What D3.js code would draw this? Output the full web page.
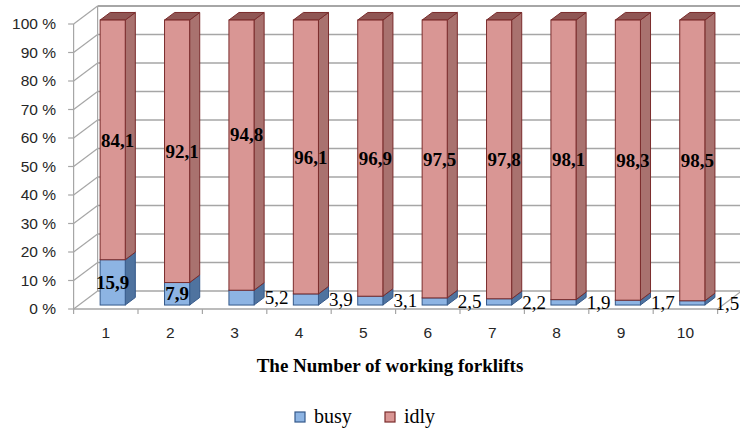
<!DOCTYPE html>
<html>
<head>
<meta charset="utf-8">
<script src="https://cdn.jsdelivr.net/npm/d3@7"></script>
<style>
  body { margin: 0; background: #fff; }
  svg { display: block; }
</style>
</head>
<body>
<div id="chart"></div>
<script>
// Data
const categories = ["1", "2", "3", "4", "5", "6", "7", "8", "9", "10"];
const busy = [15.9, 7.9, 5.2, 3.9, 3.1, 2.5, 2.2, 1.9, 1.7, 1.5];
const idly = [84.1, 92.1, 94.8, 96.1, 96.9, 97.5, 97.8, 98.1, 98.3, 98.5];
const yTicks = [0, 10, 20, 30, 40, 50, 60, 70, 80, 90, 100];

const W = 740, H = 430;

const svg = d3.select("#chart")
  .append("svg")
    .attr("width", W)
    .attr("height", H);

svg.append("rect").attr("width", W).attr("height", H).attr("fill", "#fff");

// front plane scales
const x = d3.scaleBand()
  .domain(categories)
  .range([73.6, 717.6])
  .padding(0);

const y = d3.scaleLinear()
  .domain([0, 100])
  .range([309, 24]);

// depth of the walls and of the bars
const depth = {dx: 24, dy: -18};
const f0 = 0.22, f1 = 0.64;
const ox = depth.dx * f0, oy = depth.dy * f0;
const ddx = depth.dx * (f1 - f0), ddy = depth.dy * (f1 - f0);

const gridColor = "#a6a6a6";
const x0 = x.range()[0], x1 = x.range()[1];

// walls: back gridlines, side wall diagonals
const walls = svg.append("g");
yTicks.forEach(t => {
  walls.append("line")
    .attr("x1", x0 + depth.dx).attr("x2", x1 + depth.dx)
    .attr("y1", y(t) + depth.dy).attr("y2", y(t) + depth.dy)
    .attr("stroke", gridColor)
    .attr("stroke-width", t === 100 ? 2.2 : 1.3);
  walls.append("line")
    .attr("x1", x0).attr("y1", y(t))
    .attr("x2", x0 + depth.dx).attr("y2", y(t) + depth.dy)
    .attr("stroke", gridColor).attr("stroke-width", 1.2);
  // tick
  walls.append("line")
    .attr("x1", x0 - 5.5).attr("x2", x0)
    .attr("y1", y(t)).attr("y2", y(t))
    .attr("stroke", gridColor).attr("stroke-width", 1.2);
});
// back wall left edge + front axis line
walls.append("line")
  .attr("x1", x0 + depth.dx).attr("x2", x0 + depth.dx)
  .attr("y1", y(0) + depth.dy).attr("y2", y(100) + depth.dy)
  .attr("stroke", gridColor).attr("stroke-width", 1.2);
walls.append("line")
  .attr("x1", x0).attr("x2", x0)
  .attr("y1", y(0)).attr("y2", y(100))
  .attr("stroke", gridColor).attr("stroke-width", 1.2);
// floor front edge and right edge
walls.append("line")
  .attr("x1", x0).attr("x2", x1)
  .attr("y1", y(0)).attr("y2", y(0))
  .attr("stroke", gridColor).attr("stroke-width", 1.5);
walls.append("line")
  .attr("x1", x1).attr("x2", x1 + depth.dx)
  .attr("y1", y(0)).attr("y2", y(0) + depth.dy)
  .attr("stroke", gridColor).attr("stroke-width", 1.2);

// x ticks at category boundaries
d3.range(0, categories.length + 1).forEach(k => {
  const xx = x0 + k * x.bandwidth();
  walls.append("line")
    .attr("x1", xx).attr("x2", xx)
    .attr("y1", y(0)).attr("y2", y(0) + 5)
    .attr("stroke", gridColor).attr("stroke-width", 1.2);
});

// y tick labels
svg.append("g").selectAll("text")
  .data(yTicks)
  .enter().append("text")
    .attr("x", 56)
    .attr("y", d => y(d))
    .attr("dy", "0.35em")
    .attr("text-anchor", "end")
    .style("font-family", "'Liberation Sans', Arial, sans-serif")
    .style("font-size", "15.5px")
    .attr("fill", "#262626")
    .text(d => d + " %");

// x category labels
svg.append("g").selectAll("text")
  .data(categories)
  .enter().append("text")
    .attr("x", d => x(d) + x.bandwidth() / 2)
    .attr("y", 333)
    .attr("dy", "0.35em")
    .attr("text-anchor", "middle")
    .style("font-family", "'Liberation Sans', Arial, sans-serif")
    .style("font-size", "15.5px")
    .attr("fill", "#262626")
    .text(d => d);

// series styling
const series = [
  {key: "busy", values: busy, front: "#8db4e3", side: "#4f739f", top: "#6f93c4", stroke: "#35598a"},
  {key: "idly", values: idly, front: "#d99694", side: "#a9726f", top: "#8f5654", stroke: "#7a2c2c"}
];

const barW = x.bandwidth() * 0.39;
const barOff = x.bandwidth() * 0.33;

const bars = svg.append("g");
categories.forEach((c, i) => {
  let lo = 0;
  const bx = x(c) + barOff + ox;
  series.forEach((s, si) => {
    const hi = lo + s.values[i];
    const yTop = y(hi) + oy, yBot = y(lo) + oy;
    const g = bars.append("g");
    // side face
    g.append("polygon")
      .attr("points", [
        [bx + barW, yTop], [bx + barW + ddx, yTop + ddy],
        [bx + barW + ddx, yBot + ddy], [bx + barW, yBot]
      ].map(p => p.join(",")).join(" "))
      .attr("fill", s.side).attr("stroke", s.stroke).attr("stroke-width", 1)
      .attr("stroke-linejoin", "round");
    // top face
    g.append("polygon")
      .attr("points", [
        [bx, yTop], [bx + ddx, yTop + ddy],
        [bx + barW + ddx, yTop + ddy], [bx + barW, yTop]
      ].map(p => p.join(",")).join(" "))
      .attr("fill", s.top).attr("stroke", s.stroke).attr("stroke-width", 1)
      .attr("stroke-linejoin", "round");
    // front face
    g.append("rect")
      .attr("x", bx).attr("y", yTop)
      .attr("width", barW).attr("height", yBot - yTop)
      .attr("fill", s.front).attr("stroke", s.stroke).attr("stroke-width", 1);
    lo = hi;
  });
});

// data labels
const fmt = v => d3.format(".1f")(v).replace(".", ",");
const idlyLabelNudge = {2: -21};
const labels = svg.append("g")
  .style("font-family", "'Liberation Serif', 'Times New Roman', serif")
  .style("font-size", "19px")
  .attr("fill", "#000");

categories.forEach((c, i) => {
  const bx = x(c) + barOff + ox;
  // idly label, centred in the segment
  const mid = y(busy[i] + idly[i] / 2) + oy + (idlyLabelNudge[i] || 0);
  labels.append("text")
    .attr("x", bx + barW / 2 + ddx / 2)
    .attr("y", mid)
    .attr("dy", "0.35em")
    .attr("text-anchor", "middle")
    .style("font-weight", "bold")
    .text(fmt(idly[i]));
  // busy label: inside if tall enough, else beside the bar
  const bmid = y(busy[i] / 2) + oy;
  const inside = busy[i] > 7;
  labels.append("text")
    .attr("x", inside ? bx + barW / 2 : bx + barW + ddx + 0.5)
    .attr("y", bmid)
    .attr("dy", "0.35em")
    .attr("text-anchor", inside ? "middle" : "start")
    .style("font-weight", inside ? "bold" : "normal")
    .text(fmt(busy[i]));
});

// axis title
svg.append("text")
  .attr("x", 390)
  .attr("y", 365)
  .attr("dy", "0.35em")
  .attr("text-anchor", "middle")
  .style("font-family", "'Liberation Serif', 'Times New Roman', serif")
  .style("font-size", "19px")
  .style("font-weight", "bold")
  .text("The Number of working forklifts");

// legend
const legend = svg.append("g");
const legendPos = [{x: 295, label: "busy"}, {x: 385, label: "idly"}];
series.forEach((s, i) => {
  const lx = legendPos[i].x;
  legend.append("rect")
    .attr("x", lx).attr("y", 412)
    .attr("width", 10).attr("height", 10)
    .attr("fill", s.front).attr("stroke", s.stroke).attr("stroke-width", 1.2);
  legend.append("text")
    .attr("x", lx + 19)
    .attr("y", 416)
    .attr("dy", "0.35em")
    .style("font-family", "'Liberation Serif', 'Times New Roman', serif")
    .style("font-size", "20px")
    .text(s.key);
});
</script>
</body>
</html>
